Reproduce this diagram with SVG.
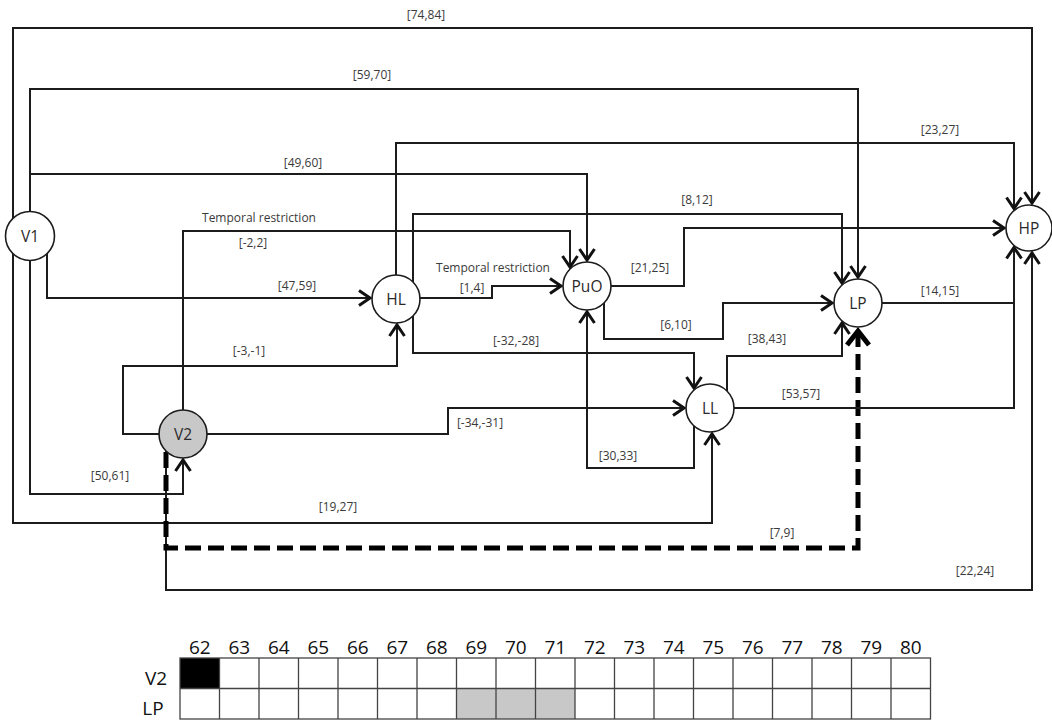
<svg xmlns="http://www.w3.org/2000/svg" width="1052" height="720" viewBox="0 0 1052 720">
<style>
.ln{fill:none;stroke:#1c1c1c;stroke-width:2;marker-end:url(#ah)}
.ln0{fill:none;stroke:#1c1c1c;stroke-width:2}
.dash{fill:none;stroke:#000;stroke-width:5;stroke-dasharray:16 7;marker-end:url(#ahb)}
.node circle{fill:#fff;stroke:#1c1c1c;stroke-width:1.6}
#V2 circle{fill:#c8c8c8}
.lbl{font-family:'Open Sans','Liberation Sans',sans-serif;font-size:12px;fill:#3a3a3a;text-anchor:middle}
.nl{font-family:'Open Sans','Liberation Sans',sans-serif;font-size:15.5px;fill:#2a2a2a;text-anchor:middle}
.tb{font-family:'Open Sans','Liberation Sans',sans-serif;font-size:19px;fill:#111;text-anchor:middle}
.grid{fill:none;stroke:#444;stroke-width:1.3}
</style>
<defs>
<marker id="ah" markerUnits="userSpaceOnUse" orient="auto" overflow="visible" markerWidth="1" markerHeight="1"><path d="M-11,-7.5 L0,0 L-11,7.5" fill="none" stroke="#111" stroke-width="3"/></marker>
<marker id="ahb" markerUnits="userSpaceOnUse" orient="auto" overflow="visible" markerWidth="1" markerHeight="1"><path d="M-14,-11 L0,0 L-14,11" fill="none" stroke="#000" stroke-width="5"/></marker>
</defs>
<rect width="1052" height="720" fill="#fff"/>
<g id="connectors">
<path class="ln" d="M13,236 V28 H1032 V203"/>
<path class="ln" d="M30,236 V89 H858 V277"/>
<path class="ln" d="M30,174 H587 V260"/>
<path class="ln" d="M47,240 V298 H370"/>
<path class="ln" d="M30,236 V494 H183 V460"/>
<path class="ln" d="M13,236 V523 H712 V434"/>
<path class="ln" d="M183,434 V231 H570 V267"/>
<path class="ln" d="M183,434 H123 V366 H397 V325"/>
<path class="ln" d="M183,434 H448 V408 H684"/>
<path class="ln" d="M166,434 V590 H1032 V253"/>
<path class="dash" d="M166,452 V548 H858 V331"/>
<path class="ln" d="M396,299 V143 H1014 V208.5"/>
<path class="ln" d="M413,299 V214 H842 V283"/>
<path class="ln" d="M396,298 H492 V286 H561"/>
<path class="ln" d="M413,299 V353 H694 V388"/>
<path class="ln" d="M587,286 H684 V228 H1004"/>
<path class="ln" d="M604,286 V339 H723 V303 H832"/>
<path class="ln" d="M694,408 V468 H587 V312"/>
<path class="ln" d="M727,408 V356 H842 V323"/>
<path class="ln" d="M710,408 H1014 V247.5"/>
<path class="ln0" d="M858,303 H1014"/>
</g>
<g id="labels">
<text class="lbl" x="426" y="19">[74,84]</text>
<text class="lbl" x="372" y="79">[59,70]</text>
<text class="lbl" x="940" y="134">[23,27]</text>
<text class="lbl" x="303" y="167">[49,60]</text>
<text class="lbl" x="697" y="204">[8,12]</text>
<text class="lbl" x="259" y="222">Temporal restriction</text>
<text class="lbl" x="253" y="247">[-2,2]</text>
<text class="lbl" x="493" y="272">Temporal restriction</text>
<text class="lbl" x="650" y="272">[21,25]</text>
<text class="lbl" x="297" y="290">[47,59]</text>
<text class="lbl" x="472" y="292">[1,4]</text>
<text class="lbl" x="940" y="295">[14,15]</text>
<text class="lbl" x="676" y="329">[6,10]</text>
<text class="lbl" x="516" y="345">[-32,-28]</text>
<text class="lbl" x="767" y="343">[38,43]</text>
<text class="lbl" x="249" y="355">[-3,-1]</text>
<text class="lbl" x="801" y="398">[53,57]</text>
<text class="lbl" x="480" y="427">[-34,-31]</text>
<text class="lbl" x="618" y="460">[30,33]</text>
<text class="lbl" x="110" y="480">[50,61]</text>
<text class="lbl" x="338" y="511">[19,27]</text>
<text class="lbl" x="782" y="537">[7,9]</text>
<text class="lbl" x="975" y="575">[22,24]</text>
</g>
<g id="V1" class="node"><circle cx="30" cy="236" r="24.5"/><text class="nl" x="30" y="241.5">V1</text></g>
<g id="HL" class="node"><circle cx="396" cy="299" r="24"/><text class="nl" x="396" y="304.5">HL</text></g>
<g id="PuO" class="node"><circle cx="587" cy="286" r="24"/><text class="nl" x="587" y="291.5">PuO</text></g>
<g id="LP" class="node"><circle cx="858" cy="303" r="24"/><text class="nl" x="858" y="308.5">LP</text></g>
<g id="HP" class="node"><circle cx="1029" cy="228" r="23"/><text class="nl" x="1029" y="233.5">HP</text></g>
<g id="LL" class="node"><circle cx="710" cy="408" r="24"/><text class="nl" x="710" y="413.5">LL</text></g>
<g id="V2" class="node"><circle cx="183" cy="434" r="24"/><text class="nl" x="183" y="439.5">V2</text></g>
<g id="table">
<rect x="180" y="658" width="39.5" height="30.5" fill="#000"/>
<rect x="456.5" y="688.5" width="118.5" height="30.5" fill="#c8c8c8"/>
<rect class="grid" x="180" y="658" width="750.5" height="61"/>
<path class="grid" d="M180,688.5 H930.5 M219.5,658 V719 M259,658 V719 M298.5,658 V719 M338,658 V719 M377.5,658 V719 M417,658 V719 M456.5,658 V719 M496,658 V719 M535.5,658 V719 M575,658 V719 M614.5,658 V719 M654,658 V719 M693.5,658 V719 M733,658 V719 M772.5,658 V719 M812,658 V719 M851.5,658 V719 M891,658 V719"/>
<text class="tb" x="199.75" y="654">62</text>
<text class="tb" x="239.25" y="654">63</text>
<text class="tb" x="278.75" y="654">64</text>
<text class="tb" x="318.25" y="654">65</text>
<text class="tb" x="357.75" y="654">66</text>
<text class="tb" x="397.25" y="654">67</text>
<text class="tb" x="436.75" y="654">68</text>
<text class="tb" x="476.25" y="654">69</text>
<text class="tb" x="515.75" y="654">70</text>
<text class="tb" x="555.25" y="654">71</text>
<text class="tb" x="594.75" y="654">72</text>
<text class="tb" x="634.25" y="654">73</text>
<text class="tb" x="673.75" y="654">74</text>
<text class="tb" x="713.25" y="654">75</text>
<text class="tb" x="752.75" y="654">76</text>
<text class="tb" x="792.25" y="654">77</text>
<text class="tb" x="831.75" y="654">78</text>
<text class="tb" x="871.25" y="654">79</text>
<text class="tb" x="910.75" y="654">80</text>
<text class="tb" x="156" y="685">V2</text>
<text class="tb" x="153" y="715">LP</text>
</g>
</svg>
